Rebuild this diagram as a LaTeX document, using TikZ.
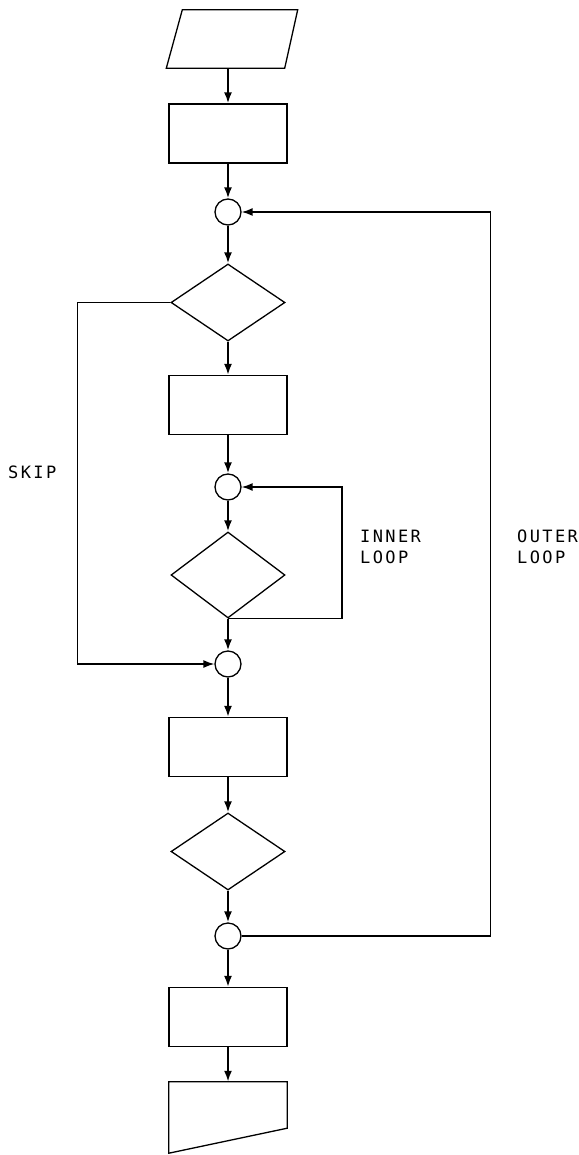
\documentclass[tikz,border=0pt]{standalone}
\usepackage{fontspec}
\usepackage{tikz}
\usetikzlibrary{positioning,shapes.geometric,arrows.meta,calc}
\newfontfamily\loopfont[LetterSpace=14]{DejaVu Sans Mono}

\begin{document}
\begin{tikzpicture}[x=1pt, y=-1pt, node distance=88pt,
    procbox/.style={draw, rectangle, line width=1.3pt, minimum width=118pt, minimum height=59pt, inner sep=0pt},
    decision/.style={draw, diamond, line width=1.3pt, minimum width=114pt, minimum height=77pt, inner sep=0pt},
    connector/.style={draw, circle, line width=1.3pt, minimum size=26pt, inner sep=0pt},
    flow/.style={-{Latex[length=11pt,width=8pt]}, line width=2pt},
    loopline/.style={line width=1.5pt},
    looplabel/.style={font=\loopfont\fontsize{17}{21}\selectfont, align=left, inner sep=0pt}]
    \path[use as bounding box, fill=white] (0,0) rectangle (578,1155);

    % Input
    \node[minimum width=131pt, minimum height=58pt, inner sep=0pt] (in) at (232,39) {};
    \draw[line width=1.3pt] (in.south west) -- ($(in.north west)+(16,0)$) -- (in.north east)
        -- ($(in.south east)+(-13,0)$) -- cycle;

    % Main column
    \node[procbox, below of=in, xshift=-4pt, yshift=-6.5pt] (box1) {};
    \node[connector, below of=box1, yshift=9.5pt] (c1) {};
    \node[decision, below of=c1, yshift=-2.5pt] (d1) {};
    \node[procbox, below of=d1, yshift=-14.5pt] (box2) {};
    \node[connector, below of=box2, yshift=6pt] (c2) {};
    \node[decision, below of=c2, minimum height=86pt] (d2) {};
    \node[connector, below of=d2, yshift=-1pt] (c3) {};
    \node[procbox, below of=c3, yshift=5pt] (box3) {};
    \node[decision, below of=box3, yshift=-16.5pt] (d3) {};
    \node[connector, below of=d3, yshift=3.5pt] (c4) {};
    \node[procbox, below of=c4, yshift=7pt] (box4) {};

    % Output
    \node[minimum width=118pt, minimum height=71pt, inner sep=0pt, below of=box4, yshift=-12.5pt] (out) {};
    \draw[line width=1.3pt] (out.south west) -- (out.north west) -- (out.north east)
        -- ($(out.south east)+(0,-25)$) -- cycle;

    % Arrows
    \draw[flow] (in.south -| box1.north) -- (box1.north);
    \draw[flow] (box1) -- (c1);
    \draw[flow] (c1) -- (d1);
    \draw[flow] (d1) -- (box2);
    \draw[flow] (box2) -- (c2);
    \draw[flow] (c2) -- (d2);
    \draw[flow] (d2) -- (c3);
    \draw[flow] (c3) -- (box3);
    \draw[flow] (box3) -- (d3);
    \draw[flow] (d3) -- (c4);
    \draw[flow] (c4) -- (box4);
    \draw[flow] (box4) -- (out.north);

    % Loops
    \draw[loopline, -{Latex[length=11pt,width=8pt]}] (d1.west) -- ++(-93,0) |- (c3.west);
    \draw[loopline, -{Latex[length=11pt,width=8pt]}] (d2.south) -- ++(114,0) |- (c2.east);
    \draw[loopline, -{Latex[length=11pt,width=8pt]}] (c4.east) -- ++(249,0) |- (c1.east);

    % Labels
    \node[looplabel, anchor=west] (skiplbl) at (8,472) {SKIP};
    \node[looplabel, anchor=north west] (innerlbl) at (360,530) {INNER\\LOOP};
    \node[looplabel, anchor=north west] (outerlbl) at (517,530) {OUTER\\LOOP};
\end{tikzpicture}
\end{document}
